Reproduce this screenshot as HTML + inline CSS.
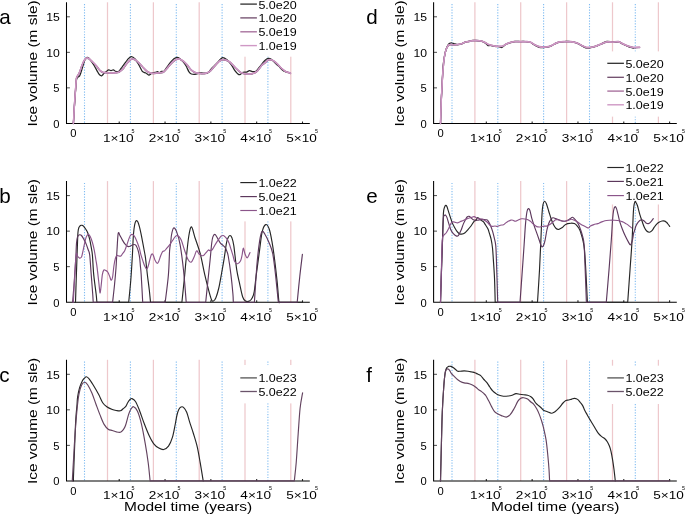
<!DOCTYPE html>
<html><head><meta charset="utf-8"><style>
html,body{margin:0;padding:0;background:#fff;width:685px;height:515px;overflow:hidden;}
svg{display:block;will-change:transform;}
text{font-family:"Liberation Sans", sans-serif;}
</style></head><body>
<svg width="685" height="515" viewBox="0 0 685 515">
<rect x="0" y="0" width="685" height="515" fill="#fff"/>
<line x1="107.5" y1="2.3" x2="107.5" y2="123.4" stroke="#eec8cc" stroke-width="1.25"/>
<line x1="153.4" y1="2.3" x2="153.4" y2="123.4" stroke="#eec8cc" stroke-width="1.25"/>
<line x1="199.2" y1="2.3" x2="199.2" y2="123.4" stroke="#eec8cc" stroke-width="1.25"/>
<line x1="245.0" y1="56.4" x2="245.0" y2="123.4" stroke="#eec8cc" stroke-width="1.25"/>
<line x1="290.8" y1="56.4" x2="290.8" y2="123.4" stroke="#eec8cc" stroke-width="1.25"/>
<line x1="84.5" y1="4.1" x2="84.5" y2="123.4" stroke="#80bcf1" stroke-width="1.1" stroke-dasharray="1.2 1.53"/>
<line x1="130.4" y1="4.1" x2="130.4" y2="123.4" stroke="#80bcf1" stroke-width="1.1" stroke-dasharray="1.2 1.53"/>
<line x1="176.3" y1="4.1" x2="176.3" y2="123.4" stroke="#80bcf1" stroke-width="1.1" stroke-dasharray="1.2 1.53"/>
<line x1="222.1" y1="4.1" x2="222.1" y2="123.4" stroke="#80bcf1" stroke-width="1.1" stroke-dasharray="1.2 1.53"/>
<line x1="267.9" y1="56.4" x2="267.9" y2="123.4" stroke="#80bcf1" stroke-width="1.1" stroke-dasharray="1.2 1.53"/>
<line x1="107.5" y1="181.1" x2="107.5" y2="302.2" stroke="#eec8cc" stroke-width="1.25"/>
<line x1="153.4" y1="181.1" x2="153.4" y2="302.2" stroke="#eec8cc" stroke-width="1.25"/>
<line x1="199.2" y1="181.1" x2="199.2" y2="302.2" stroke="#eec8cc" stroke-width="1.25"/>
<line x1="245.0" y1="221.2" x2="245.0" y2="302.2" stroke="#eec8cc" stroke-width="1.25"/>
<line x1="290.8" y1="221.2" x2="290.8" y2="302.2" stroke="#eec8cc" stroke-width="1.25"/>
<line x1="84.5" y1="182.9" x2="84.5" y2="302.2" stroke="#80bcf1" stroke-width="1.1" stroke-dasharray="1.2 1.53"/>
<line x1="130.4" y1="182.9" x2="130.4" y2="302.2" stroke="#80bcf1" stroke-width="1.1" stroke-dasharray="1.2 1.53"/>
<line x1="176.3" y1="182.9" x2="176.3" y2="302.2" stroke="#80bcf1" stroke-width="1.1" stroke-dasharray="1.2 1.53"/>
<line x1="222.1" y1="182.9" x2="222.1" y2="302.2" stroke="#80bcf1" stroke-width="1.1" stroke-dasharray="1.2 1.53"/>
<line x1="267.9" y1="221.2" x2="267.9" y2="302.2" stroke="#80bcf1" stroke-width="1.1" stroke-dasharray="1.2 1.53"/>
<line x1="107.5" y1="359.8" x2="107.5" y2="480.9" stroke="#eec8cc" stroke-width="1.25"/>
<line x1="153.4" y1="359.8" x2="153.4" y2="480.9" stroke="#eec8cc" stroke-width="1.25"/>
<line x1="199.2" y1="359.8" x2="199.2" y2="480.9" stroke="#eec8cc" stroke-width="1.25"/>
<line x1="245.0" y1="359.8" x2="245.0" y2="365.2" stroke="#eec8cc" stroke-width="1.25"/>
<line x1="245.0" y1="403.2" x2="245.0" y2="480.9" stroke="#eec8cc" stroke-width="1.25"/>
<line x1="290.8" y1="359.8" x2="290.8" y2="365.2" stroke="#eec8cc" stroke-width="1.25"/>
<line x1="290.8" y1="403.2" x2="290.8" y2="480.9" stroke="#eec8cc" stroke-width="1.25"/>
<line x1="84.5" y1="361.6" x2="84.5" y2="480.9" stroke="#80bcf1" stroke-width="1.1" stroke-dasharray="1.2 1.53"/>
<line x1="130.4" y1="361.6" x2="130.4" y2="480.9" stroke="#80bcf1" stroke-width="1.1" stroke-dasharray="1.2 1.53"/>
<line x1="176.3" y1="361.6" x2="176.3" y2="480.9" stroke="#80bcf1" stroke-width="1.1" stroke-dasharray="1.2 1.53"/>
<line x1="222.1" y1="361.6" x2="222.1" y2="480.9" stroke="#80bcf1" stroke-width="1.1" stroke-dasharray="1.2 1.53"/>
<line x1="267.9" y1="361.6" x2="267.9" y2="365.2" stroke="#80bcf1" stroke-width="1.1" stroke-dasharray="1.2 1.53"/>
<line x1="267.9" y1="403.2" x2="267.9" y2="480.9" stroke="#80bcf1" stroke-width="1.1" stroke-dasharray="1.2 1.53"/>
<line x1="474.9" y1="2.3" x2="474.9" y2="123.4" stroke="#eec8cc" stroke-width="1.25"/>
<line x1="520.7" y1="2.3" x2="520.7" y2="123.4" stroke="#eec8cc" stroke-width="1.25"/>
<line x1="566.6" y1="2.3" x2="566.6" y2="123.4" stroke="#eec8cc" stroke-width="1.25"/>
<line x1="612.5" y1="2.3" x2="612.5" y2="51.6" stroke="#eec8cc" stroke-width="1.25"/>
<line x1="612.5" y1="116.4" x2="612.5" y2="123.4" stroke="#eec8cc" stroke-width="1.25"/>
<line x1="658.4" y1="2.3" x2="658.4" y2="51.6" stroke="#eec8cc" stroke-width="1.25"/>
<line x1="658.4" y1="116.4" x2="658.4" y2="123.4" stroke="#eec8cc" stroke-width="1.25"/>
<line x1="452.0" y1="4.1" x2="452.0" y2="123.4" stroke="#80bcf1" stroke-width="1.1" stroke-dasharray="1.2 1.53"/>
<line x1="497.8" y1="4.1" x2="497.8" y2="123.4" stroke="#80bcf1" stroke-width="1.1" stroke-dasharray="1.2 1.53"/>
<line x1="543.6" y1="4.1" x2="543.6" y2="123.4" stroke="#80bcf1" stroke-width="1.1" stroke-dasharray="1.2 1.53"/>
<line x1="589.5" y1="4.1" x2="589.5" y2="123.4" stroke="#80bcf1" stroke-width="1.1" stroke-dasharray="1.2 1.53"/>
<line x1="635.3" y1="4.1" x2="635.3" y2="51.6" stroke="#80bcf1" stroke-width="1.1" stroke-dasharray="1.2 1.53"/>
<line x1="635.3" y1="116.4" x2="635.3" y2="123.4" stroke="#80bcf1" stroke-width="1.1" stroke-dasharray="1.2 1.53"/>
<line x1="474.9" y1="181.1" x2="474.9" y2="302.2" stroke="#eec8cc" stroke-width="1.25"/>
<line x1="520.7" y1="181.1" x2="520.7" y2="302.2" stroke="#eec8cc" stroke-width="1.25"/>
<line x1="566.6" y1="181.1" x2="566.6" y2="302.2" stroke="#eec8cc" stroke-width="1.25"/>
<line x1="612.5" y1="204.3" x2="612.5" y2="302.2" stroke="#eec8cc" stroke-width="1.25"/>
<line x1="658.4" y1="204.3" x2="658.4" y2="302.2" stroke="#eec8cc" stroke-width="1.25"/>
<line x1="452.0" y1="182.9" x2="452.0" y2="302.2" stroke="#80bcf1" stroke-width="1.1" stroke-dasharray="1.2 1.53"/>
<line x1="497.8" y1="182.9" x2="497.8" y2="302.2" stroke="#80bcf1" stroke-width="1.1" stroke-dasharray="1.2 1.53"/>
<line x1="543.6" y1="182.9" x2="543.6" y2="302.2" stroke="#80bcf1" stroke-width="1.1" stroke-dasharray="1.2 1.53"/>
<line x1="589.5" y1="182.9" x2="589.5" y2="302.2" stroke="#80bcf1" stroke-width="1.1" stroke-dasharray="1.2 1.53"/>
<line x1="635.3" y1="204.3" x2="635.3" y2="302.2" stroke="#80bcf1" stroke-width="1.1" stroke-dasharray="1.2 1.53"/>
<line x1="474.9" y1="359.8" x2="474.9" y2="480.9" stroke="#eec8cc" stroke-width="1.25"/>
<line x1="520.7" y1="359.8" x2="520.7" y2="480.9" stroke="#eec8cc" stroke-width="1.25"/>
<line x1="566.6" y1="359.8" x2="566.6" y2="480.9" stroke="#eec8cc" stroke-width="1.25"/>
<line x1="612.5" y1="359.8" x2="612.5" y2="365.8" stroke="#eec8cc" stroke-width="1.25"/>
<line x1="612.5" y1="404" x2="612.5" y2="480.9" stroke="#eec8cc" stroke-width="1.25"/>
<line x1="658.4" y1="359.8" x2="658.4" y2="365.8" stroke="#eec8cc" stroke-width="1.25"/>
<line x1="658.4" y1="404" x2="658.4" y2="480.9" stroke="#eec8cc" stroke-width="1.25"/>
<line x1="452.0" y1="361.6" x2="452.0" y2="480.9" stroke="#80bcf1" stroke-width="1.1" stroke-dasharray="1.2 1.53"/>
<line x1="497.8" y1="361.6" x2="497.8" y2="480.9" stroke="#80bcf1" stroke-width="1.1" stroke-dasharray="1.2 1.53"/>
<line x1="543.6" y1="361.6" x2="543.6" y2="480.9" stroke="#80bcf1" stroke-width="1.1" stroke-dasharray="1.2 1.53"/>
<line x1="589.5" y1="361.6" x2="589.5" y2="480.9" stroke="#80bcf1" stroke-width="1.1" stroke-dasharray="1.2 1.53"/>
<line x1="635.3" y1="361.6" x2="635.3" y2="365.8" stroke="#80bcf1" stroke-width="1.1" stroke-dasharray="1.2 1.53"/>
<line x1="635.3" y1="404" x2="635.3" y2="480.9" stroke="#80bcf1" stroke-width="1.1" stroke-dasharray="1.2 1.53"/>
<rect x="236" y="-10" width="67" height="66.4" fill="#fff"/>
<rect x="236" y="170.9" width="67" height="50.29999999999998" fill="#fff"/>
<rect x="236" y="365.2" width="67" height="38.0" fill="#fff"/>
<rect x="603" y="51.6" width="67" height="64.80000000000001" fill="#fff"/>
<rect x="603" y="155.8" width="67" height="48.5" fill="#fff"/>
<rect x="603" y="365.8" width="67" height="38.19999999999999" fill="#fff"/>
<path d="M66.5,2.3V123.4H309.8" fill="none" stroke="#000" stroke-width="1.05"/>
<line x1="66.5" y1="87.87" x2="69.9" y2="87.87" stroke="#000" stroke-width="1" opacity="0.7"/>
<line x1="66.5" y1="52.33" x2="69.9" y2="52.33" stroke="#000" stroke-width="1" opacity="0.7"/>
<line x1="66.5" y1="16.8" x2="69.9" y2="16.8" stroke="#000" stroke-width="1" opacity="0.7"/>
<line x1="73.4" y1="123.4" x2="73.4" y2="121.5" stroke="#000" stroke-width="1.1" opacity="0.85"/>
<line x1="119.22" y1="123.4" x2="119.22" y2="121.5" stroke="#000" stroke-width="1.1" opacity="0.85"/>
<line x1="165.04" y1="123.4" x2="165.04" y2="121.5" stroke="#000" stroke-width="1.1" opacity="0.85"/>
<line x1="210.86" y1="123.4" x2="210.86" y2="121.5" stroke="#000" stroke-width="1.1" opacity="0.85"/>
<line x1="256.68" y1="123.4" x2="256.68" y2="121.5" stroke="#000" stroke-width="1.1" opacity="0.85"/>
<line x1="302.5" y1="123.4" x2="302.5" y2="121.5" stroke="#000" stroke-width="1.1" opacity="0.85"/>
<path d="M66.5,181.1V302.2H309.8" fill="none" stroke="#000" stroke-width="1.05"/>
<line x1="66.5" y1="266.67" x2="69.9" y2="266.67" stroke="#000" stroke-width="1" opacity="0.7"/>
<line x1="66.5" y1="231.13" x2="69.9" y2="231.13" stroke="#000" stroke-width="1" opacity="0.7"/>
<line x1="66.5" y1="195.6" x2="69.9" y2="195.6" stroke="#000" stroke-width="1" opacity="0.7"/>
<line x1="73.4" y1="302.2" x2="73.4" y2="300.3" stroke="#000" stroke-width="1.1" opacity="0.85"/>
<line x1="119.22" y1="302.2" x2="119.22" y2="300.3" stroke="#000" stroke-width="1.1" opacity="0.85"/>
<line x1="165.04" y1="302.2" x2="165.04" y2="300.3" stroke="#000" stroke-width="1.1" opacity="0.85"/>
<line x1="210.86" y1="302.2" x2="210.86" y2="300.3" stroke="#000" stroke-width="1.1" opacity="0.85"/>
<line x1="256.68" y1="302.2" x2="256.68" y2="300.3" stroke="#000" stroke-width="1.1" opacity="0.85"/>
<line x1="302.5" y1="302.2" x2="302.5" y2="300.3" stroke="#000" stroke-width="1.1" opacity="0.85"/>
<path d="M66.5,359.8V480.9H309.8" fill="none" stroke="#000" stroke-width="1.05"/>
<line x1="66.5" y1="445.37" x2="69.9" y2="445.37" stroke="#000" stroke-width="1" opacity="0.7"/>
<line x1="66.5" y1="409.83" x2="69.9" y2="409.83" stroke="#000" stroke-width="1" opacity="0.7"/>
<line x1="66.5" y1="374.3" x2="69.9" y2="374.3" stroke="#000" stroke-width="1" opacity="0.7"/>
<line x1="73.4" y1="480.9" x2="73.4" y2="479" stroke="#000" stroke-width="1.1" opacity="0.85"/>
<line x1="119.22" y1="480.9" x2="119.22" y2="479" stroke="#000" stroke-width="1.1" opacity="0.85"/>
<line x1="165.04" y1="480.9" x2="165.04" y2="479" stroke="#000" stroke-width="1.1" opacity="0.85"/>
<line x1="210.86" y1="480.9" x2="210.86" y2="479" stroke="#000" stroke-width="1.1" opacity="0.85"/>
<line x1="256.68" y1="480.9" x2="256.68" y2="479" stroke="#000" stroke-width="1.1" opacity="0.85"/>
<line x1="302.5" y1="480.9" x2="302.5" y2="479" stroke="#000" stroke-width="1.1" opacity="0.85"/>
<path d="M433.6,2.3V123.4H676.8" fill="none" stroke="#000" stroke-width="1.05"/>
<line x1="433.6" y1="87.87" x2="437.0" y2="87.87" stroke="#000" stroke-width="1" opacity="0.7"/>
<line x1="433.6" y1="52.33" x2="437.0" y2="52.33" stroke="#000" stroke-width="1" opacity="0.7"/>
<line x1="433.6" y1="16.8" x2="437.0" y2="16.8" stroke="#000" stroke-width="1" opacity="0.7"/>
<line x1="440.5" y1="123.4" x2="440.5" y2="121.5" stroke="#000" stroke-width="1.1" opacity="0.85"/>
<line x1="486.32" y1="123.4" x2="486.32" y2="121.5" stroke="#000" stroke-width="1.1" opacity="0.85"/>
<line x1="532.14" y1="123.4" x2="532.14" y2="121.5" stroke="#000" stroke-width="1.1" opacity="0.85"/>
<line x1="577.96" y1="123.4" x2="577.96" y2="121.5" stroke="#000" stroke-width="1.1" opacity="0.85"/>
<line x1="623.78" y1="123.4" x2="623.78" y2="121.5" stroke="#000" stroke-width="1.1" opacity="0.85"/>
<line x1="669.6" y1="123.4" x2="669.6" y2="121.5" stroke="#000" stroke-width="1.1" opacity="0.85"/>
<path d="M433.6,181.1V302.2H676.8" fill="none" stroke="#000" stroke-width="1.05"/>
<line x1="433.6" y1="266.67" x2="437.0" y2="266.67" stroke="#000" stroke-width="1" opacity="0.7"/>
<line x1="433.6" y1="231.13" x2="437.0" y2="231.13" stroke="#000" stroke-width="1" opacity="0.7"/>
<line x1="433.6" y1="195.6" x2="437.0" y2="195.6" stroke="#000" stroke-width="1" opacity="0.7"/>
<line x1="440.5" y1="302.2" x2="440.5" y2="300.3" stroke="#000" stroke-width="1.1" opacity="0.85"/>
<line x1="486.32" y1="302.2" x2="486.32" y2="300.3" stroke="#000" stroke-width="1.1" opacity="0.85"/>
<line x1="532.14" y1="302.2" x2="532.14" y2="300.3" stroke="#000" stroke-width="1.1" opacity="0.85"/>
<line x1="577.96" y1="302.2" x2="577.96" y2="300.3" stroke="#000" stroke-width="1.1" opacity="0.85"/>
<line x1="623.78" y1="302.2" x2="623.78" y2="300.3" stroke="#000" stroke-width="1.1" opacity="0.85"/>
<line x1="669.6" y1="302.2" x2="669.6" y2="300.3" stroke="#000" stroke-width="1.1" opacity="0.85"/>
<path d="M433.6,359.8V480.9H676.8" fill="none" stroke="#000" stroke-width="1.05"/>
<line x1="433.6" y1="445.37" x2="437.0" y2="445.37" stroke="#000" stroke-width="1" opacity="0.7"/>
<line x1="433.6" y1="409.83" x2="437.0" y2="409.83" stroke="#000" stroke-width="1" opacity="0.7"/>
<line x1="433.6" y1="374.3" x2="437.0" y2="374.3" stroke="#000" stroke-width="1" opacity="0.7"/>
<line x1="440.5" y1="480.9" x2="440.5" y2="479" stroke="#000" stroke-width="1.1" opacity="0.85"/>
<line x1="486.32" y1="480.9" x2="486.32" y2="479" stroke="#000" stroke-width="1.1" opacity="0.85"/>
<line x1="532.14" y1="480.9" x2="532.14" y2="479" stroke="#000" stroke-width="1.1" opacity="0.85"/>
<line x1="577.96" y1="480.9" x2="577.96" y2="479" stroke="#000" stroke-width="1.1" opacity="0.85"/>
<line x1="623.78" y1="480.9" x2="623.78" y2="479" stroke="#000" stroke-width="1.1" opacity="0.85"/>
<line x1="669.6" y1="480.9" x2="669.6" y2="479" stroke="#000" stroke-width="1.1" opacity="0.85"/>
<path d="M73.4,123.4C73.58,120.33 74.13,110.57 74.5,105C74.87,99.43 75.3,94 75.6,90C75.9,86 76.02,83.07 76.3,81C76.58,78.93 76.77,78.42 77.3,77.6C77.83,76.78 78.88,76.97 79.5,76.1C80.12,75.23 80.43,74.07 81,72.4C81.57,70.73 82.27,68.18 82.9,66.1C83.53,64.02 84.18,61.32 84.8,59.9C85.42,58.48 85.98,57.95 86.6,57.6C87.22,57.25 87.77,57.25 88.5,57.8C89.23,58.35 90.07,59.62 91,60.9C91.93,62.18 93.07,63.8 94.1,65.5C95.13,67.2 96.38,69.65 97.2,71.1C98.02,72.55 98.45,73.47 99,74.2C99.55,74.93 100.07,75.23 100.5,75.5C100.93,75.77 101.18,75.97 101.6,75.8C102.02,75.63 102.57,74.97 103,74.5C103.43,74.03 103.63,73.52 104.2,73C104.77,72.48 105.65,71.92 106.4,71.4C107.15,70.88 107.93,70.03 108.7,69.9C109.47,69.77 110.22,70.6 111,70.6C111.78,70.6 112.62,69.77 113.4,69.9C114.18,70.03 114.8,71.15 115.7,71.4C116.6,71.65 117.92,71.88 118.8,71.4C119.68,70.92 120.22,69.53 121,68.5C121.78,67.47 122.43,66.65 123.5,65.2C124.57,63.75 126.12,61.23 127.4,59.8C128.68,58.37 129.92,56.73 131.2,56.6C132.48,56.47 133.8,57.57 135.1,59C136.4,60.43 137.8,63.15 139,65.2C140.2,67.25 141.17,70 142.3,71.3C143.43,72.6 144.72,72.37 145.8,73C146.88,73.63 148.02,74.9 148.8,75.1C149.58,75.3 150.02,74.55 150.5,74.2C150.98,73.85 150.92,73.3 151.7,73C152.48,72.7 154.23,72.63 155.2,72.4C156.17,72.17 156.82,71.53 157.5,71.6C158.18,71.67 158.62,72.85 159.3,72.8C159.98,72.75 160.82,71.55 161.6,71.3C162.38,71.05 163.12,71.98 164,71.3C164.88,70.62 165.83,68.67 166.9,67.2C167.97,65.73 169.23,63.9 170.4,62.5C171.57,61.1 172.78,59.67 173.9,58.8C175.02,57.93 176.13,57.37 177.1,57.3C178.07,57.23 178.68,57.63 179.7,58.4C180.72,59.17 182.13,60.63 183.2,61.9C184.27,63.17 185.13,64.33 186.1,66C187.07,67.67 188.12,70.57 189,71.9C189.88,73.23 190.22,73.62 191.4,74C192.58,74.38 194.73,74.4 196.1,74.2C197.47,74 198.45,73 199.6,72.8C200.75,72.6 201.65,72.97 203,73C204.35,73.03 206.33,73.68 207.7,73C209.07,72.32 209.83,70.35 211.2,68.9C212.57,67.45 214.68,65.55 215.9,64.3C217.12,63.05 217.38,62.52 218.5,61.4C219.62,60.28 221.23,57.9 222.6,57.6C223.97,57.3 225.23,58.38 226.7,59.6C228.17,60.82 230.03,63.05 231.4,64.9C232.77,66.75 233.73,69.12 234.9,70.7C236.07,72.28 237.43,73.82 238.4,74.4C239.37,74.98 239.93,74.53 240.7,74.2C241.47,73.87 242.03,72.75 243,72.4C243.97,72.05 245.42,72.38 246.5,72.1C247.58,71.82 248.52,70.78 249.5,70.7C250.48,70.62 251.33,71.5 252.4,71.6C253.47,71.7 254.73,72.03 255.9,71.3C257.07,70.57 257.9,69 259.4,67.2C260.9,65.4 263.45,61.97 264.9,60.5C266.35,59.03 267.03,58.6 268.1,58.4C269.17,58.2 270.08,58.47 271.3,59.3C272.52,60.13 274.13,62.23 275.4,63.4C276.67,64.57 277.83,65.28 278.9,66.3C279.97,67.32 280.73,68.58 281.8,69.5C282.87,70.42 284.43,71.42 285.3,71.8C286.17,72.18 286.72,71.8 287,71.8" fill="none" stroke="#262626" stroke-width="1.25" stroke-linejoin="round" stroke-linecap="round"/>
<path d="M73.4,123.65C73.58,120.42 74.15,109.82 74.5,104.25C74.85,98.68 75.23,93.97 75.5,90.25C75.77,86.53 75.9,84.07 76.1,81.95C76.3,79.83 76.18,79 76.7,77.55C77.22,76.1 78.37,75.12 79.2,73.25C80.03,71.38 80.88,68.42 81.7,66.35C82.52,64.28 83.28,62.18 84.1,60.85C84.92,59.52 85.77,58.67 86.6,58.35C87.43,58.03 88.07,58.28 89.1,58.95C90.13,59.62 91.55,61.12 92.8,62.35C94.05,63.58 95.4,64.95 96.6,66.35C97.8,67.75 98.93,69.72 100,70.75C101.07,71.78 101.93,72.2 103,72.55C104.07,72.9 105.32,72.72 106.4,72.85C107.48,72.98 108.47,73.28 109.5,73.35C110.53,73.42 111.6,73.32 112.6,73.25C113.6,73.18 114.47,73.08 115.5,72.95C116.53,72.82 117.88,72.82 118.8,72.45C119.72,72.08 120.22,71.4 121,70.75C121.78,70.1 122.67,69.55 123.5,68.55C124.33,67.55 125.23,65.78 126,64.75C126.77,63.72 127.23,63.23 128.1,62.35C128.97,61.47 130.3,59.97 131.2,59.45C132.1,58.93 132.85,59.15 133.5,59.25C134.15,59.35 134.18,59.4 135.1,60.05C136.02,60.7 137.6,61.82 139,63.15C140.4,64.48 142.17,66.65 143.5,68.05C144.83,69.45 145.63,70.63 147,71.55C148.37,72.47 149.95,73.27 151.7,73.55C153.45,73.83 155.55,73.45 157.5,73.25C159.45,73.05 161.65,73.32 163.4,72.35C165.15,71.38 166.45,69.15 168,67.45C169.55,65.75 171.13,63.52 172.7,62.15C174.27,60.78 175.85,59.53 177.4,59.25C178.95,58.97 180.45,59.57 182,60.45C183.55,61.33 185.13,62.9 186.7,64.55C188.27,66.2 189.83,68.93 191.4,70.35C192.97,71.77 194.35,72.47 196.1,73.05C197.85,73.63 200.15,73.82 201.9,73.85C203.65,73.88 205.25,73.63 206.6,73.25C207.95,72.87 208.65,72.72 210,71.55C211.35,70.38 213.28,67.8 214.7,66.25C216.12,64.7 217.18,63.32 218.5,62.25C219.82,61.18 220.85,59.95 222.6,59.85C224.35,59.75 226.95,60.38 229,61.65C231.05,62.92 232.95,65.62 234.9,67.45C236.85,69.28 238.77,71.52 240.7,72.65C242.63,73.78 244.55,74.05 246.5,74.25C248.45,74.45 250.65,74.3 252.4,73.85C254.15,73.4 255.45,72.92 257,71.55C258.55,70.18 260.38,67.07 261.7,65.65C263.02,64.23 263.78,63.97 264.9,63.05C266.02,62.13 267.33,60.63 268.4,60.15C269.47,59.67 270.23,59.87 271.3,60.15C272.37,60.43 273.63,61.02 274.8,61.85C275.97,62.68 277.13,63.98 278.3,65.15C279.47,66.32 280.63,67.78 281.8,68.85C282.97,69.92 284.23,70.92 285.3,71.55C286.37,72.18 287.33,72.32 288.2,72.65C289.07,72.98 290.12,73.4 290.5,73.55" fill="none" stroke="#6e4a6a" stroke-width="1.3" stroke-linejoin="round" stroke-linecap="round"/>
<path d="M73.4,123.25C73.58,120.02 74.15,109.42 74.5,103.85C74.85,98.28 75.23,93.57 75.5,89.85C75.77,86.13 75.9,83.67 76.1,81.55C76.3,79.43 76.18,78.6 76.7,77.15C77.22,75.7 78.37,74.72 79.2,72.85C80.03,70.98 80.88,68.02 81.7,65.95C82.52,63.88 83.28,61.78 84.1,60.45C84.92,59.12 85.77,58.27 86.6,57.95C87.43,57.63 88.07,57.88 89.1,58.55C90.13,59.22 91.55,60.72 92.8,61.95C94.05,63.18 95.4,64.55 96.6,65.95C97.8,67.35 98.93,69.32 100,70.35C101.07,71.38 101.93,71.8 103,72.15C104.07,72.5 105.32,72.32 106.4,72.45C107.48,72.58 108.47,72.88 109.5,72.95C110.53,73.02 111.6,72.92 112.6,72.85C113.6,72.78 114.47,72.68 115.5,72.55C116.53,72.42 117.88,72.42 118.8,72.05C119.72,71.68 120.22,71 121,70.35C121.78,69.7 122.67,69.15 123.5,68.15C124.33,67.15 125.23,65.38 126,64.35C126.77,63.32 127.23,62.83 128.1,61.95C128.97,61.07 130.3,59.57 131.2,59.05C132.1,58.53 132.85,58.75 133.5,58.85C134.15,58.95 134.18,59 135.1,59.65C136.02,60.3 137.6,61.42 139,62.75C140.4,64.08 142.17,66.25 143.5,67.65C144.83,69.05 145.63,70.23 147,71.15C148.37,72.07 149.95,72.87 151.7,73.15C153.45,73.43 155.55,73.05 157.5,72.85C159.45,72.65 161.65,72.92 163.4,71.95C165.15,70.98 166.45,68.75 168,67.05C169.55,65.35 171.13,63.12 172.7,61.75C174.27,60.38 175.85,59.13 177.4,58.85C178.95,58.57 180.45,59.17 182,60.05C183.55,60.93 185.13,62.5 186.7,64.15C188.27,65.8 189.83,68.53 191.4,69.95C192.97,71.37 194.35,72.07 196.1,72.65C197.85,73.23 200.15,73.42 201.9,73.45C203.65,73.48 205.25,73.23 206.6,72.85C207.95,72.47 208.65,72.32 210,71.15C211.35,69.98 213.28,67.4 214.7,65.85C216.12,64.3 217.18,62.92 218.5,61.85C219.82,60.78 220.85,59.55 222.6,59.45C224.35,59.35 226.95,59.98 229,61.25C231.05,62.52 232.95,65.22 234.9,67.05C236.85,68.88 238.77,71.12 240.7,72.25C242.63,73.38 244.55,73.65 246.5,73.85C248.45,74.05 250.65,73.9 252.4,73.45C254.15,73 255.45,72.52 257,71.15C258.55,69.78 260.38,66.67 261.7,65.25C263.02,63.83 263.78,63.57 264.9,62.65C266.02,61.73 267.33,60.23 268.4,59.75C269.47,59.27 270.23,59.47 271.3,59.75C272.37,60.03 273.63,60.62 274.8,61.45C275.97,62.28 277.13,63.58 278.3,64.75C279.47,65.92 280.63,67.38 281.8,68.45C282.97,69.52 284.23,70.52 285.3,71.15C286.37,71.78 287.33,71.92 288.2,72.25C289.07,72.58 290.12,73 290.5,73.15" fill="none" stroke="#a9739f" stroke-width="1.4" stroke-linejoin="round" stroke-linecap="round"/>
<path d="M73.4,123.4C73.58,120.17 74.15,109.57 74.5,104C74.85,98.43 75.23,93.72 75.5,90C75.77,86.28 75.9,83.82 76.1,81.7C76.3,79.58 76.18,78.75 76.7,77.3C77.22,75.85 78.37,74.87 79.2,73C80.03,71.13 80.88,68.17 81.7,66.1C82.52,64.03 83.28,61.93 84.1,60.6C84.92,59.27 85.77,58.42 86.6,58.1C87.43,57.78 88.07,58.03 89.1,58.7C90.13,59.37 91.55,60.87 92.8,62.1C94.05,63.33 95.4,64.7 96.6,66.1C97.8,67.5 98.93,69.47 100,70.5C101.07,71.53 101.93,71.95 103,72.3C104.07,72.65 105.32,72.47 106.4,72.6C107.48,72.73 108.47,73.03 109.5,73.1C110.53,73.17 111.6,73.07 112.6,73C113.6,72.93 114.47,72.83 115.5,72.7C116.53,72.57 117.88,72.57 118.8,72.2C119.72,71.83 120.22,71.15 121,70.5C121.78,69.85 122.67,69.3 123.5,68.3C124.33,67.3 125.23,65.53 126,64.5C126.77,63.47 127.23,62.98 128.1,62.1C128.97,61.22 130.3,59.72 131.2,59.2C132.1,58.68 132.85,58.9 133.5,59C134.15,59.1 134.18,59.15 135.1,59.8C136.02,60.45 137.6,61.57 139,62.9C140.4,64.23 142.17,66.4 143.5,67.8C144.83,69.2 145.63,70.38 147,71.3C148.37,72.22 149.95,73.02 151.7,73.3C153.45,73.58 155.55,73.2 157.5,73C159.45,72.8 161.65,73.07 163.4,72.1C165.15,71.13 166.45,68.9 168,67.2C169.55,65.5 171.13,63.27 172.7,61.9C174.27,60.53 175.85,59.28 177.4,59C178.95,58.72 180.45,59.32 182,60.2C183.55,61.08 185.13,62.65 186.7,64.3C188.27,65.95 189.83,68.68 191.4,70.1C192.97,71.52 194.35,72.22 196.1,72.8C197.85,73.38 200.15,73.57 201.9,73.6C203.65,73.63 205.25,73.38 206.6,73C207.95,72.62 208.65,72.47 210,71.3C211.35,70.13 213.28,67.55 214.7,66C216.12,64.45 217.18,63.07 218.5,62C219.82,60.93 220.85,59.7 222.6,59.6C224.35,59.5 226.95,60.13 229,61.4C231.05,62.67 232.95,65.37 234.9,67.2C236.85,69.03 238.77,71.27 240.7,72.4C242.63,73.53 244.55,73.8 246.5,74C248.45,74.2 250.65,74.05 252.4,73.6C254.15,73.15 255.45,72.67 257,71.3C258.55,69.93 260.38,66.82 261.7,65.4C263.02,63.98 263.78,63.72 264.9,62.8C266.02,61.88 267.33,60.38 268.4,59.9C269.47,59.42 270.23,59.62 271.3,59.9C272.37,60.18 273.63,60.77 274.8,61.6C275.97,62.43 277.13,63.73 278.3,64.9C279.47,66.07 280.63,67.53 281.8,68.6C282.97,69.67 284.23,70.67 285.3,71.3C286.37,71.93 287.33,72.07 288.2,72.4C289.07,72.73 290.12,73.15 290.5,73.3" fill="none" stroke="#cf98c5" stroke-width="1.4" stroke-linejoin="round" stroke-linecap="round"/>
<path d="M440.5,123.4C440.63,119.5 441.03,106.4 441.3,100C441.57,93.6 441.82,90.48 442.1,85C442.38,79.52 442.6,71.93 443,67.1C443.4,62.27 443.98,58.98 444.5,56C445.02,53.02 445.52,51.03 446.1,49.2C446.68,47.37 447.42,45.97 448,45C448.58,44.03 448.95,43.73 449.6,43.4C450.25,43.07 451.12,42.93 451.9,43C452.68,43.07 453.32,43.55 454.3,43.8C455.28,44.05 456.58,44.5 457.8,44.5C459.02,44.5 460.4,44.18 461.6,43.8C462.8,43.42 463.98,42.58 465,42.2C466.02,41.82 466.47,41.78 467.7,41.5C468.93,41.22 471.03,40.7 472.4,40.5C473.77,40.3 474.35,40.2 475.9,40.3C477.45,40.4 480.15,40.65 481.7,41.1C483.25,41.55 484.13,42.25 485.2,43C486.27,43.75 487.3,45.18 488.1,45.6C488.9,46.02 489.12,45.47 490,45.5C490.88,45.53 492.05,45.63 493.4,45.8C494.75,45.97 496.73,46.22 498.1,46.5C499.47,46.78 500.62,47.62 501.6,47.5C502.58,47.38 503.23,46.38 504,45.8C504.77,45.22 505.05,44.58 506.2,44C507.35,43.42 509.43,42.73 510.9,42.3C512.37,41.87 513.4,41.53 515,41.4C516.6,41.27 518.8,41.48 520.5,41.5C522.2,41.52 523.63,41.42 525.2,41.5C526.77,41.58 528.35,41.42 529.9,42C531.45,42.58 532.95,44.12 534.5,45C536.05,45.88 537.63,46.87 539.2,47.3C540.77,47.73 542.15,47.75 543.9,47.6C545.65,47.45 547.95,47 549.7,46.4C551.45,45.8 552.85,44.73 554.4,44C555.95,43.27 557.25,42.42 559,42C560.75,41.58 562.95,41.58 564.9,41.5C566.85,41.42 568.75,41.28 570.7,41.5C572.65,41.72 574.85,42.15 576.6,42.8C578.35,43.45 579.65,44.57 581.2,45.4C582.75,46.23 584.55,47.4 585.9,47.8C587.25,48.2 587.75,48.03 589.3,47.8C590.85,47.57 593.25,47.03 595.2,46.4C597.15,45.77 599.05,44.85 601,44C602.95,43.15 604.95,41.62 606.9,41.3C608.85,40.98 610.77,42.03 612.7,42.1C614.63,42.17 616.75,41.35 618.5,41.7C620.25,42.05 621.45,43.35 623.2,44.2C624.95,45.05 627.25,46.15 629,46.8C630.75,47.45 632.92,47.88 633.7,48.1" fill="none" stroke="#262626" stroke-width="1.25" stroke-linejoin="round" stroke-linecap="round"/>
<path d="M440.5,123.65C440.63,119.75 441.03,106.65 441.3,100.25C441.57,93.85 441.88,89.25 442.1,85.25C442.32,81.25 442.32,80.15 442.6,76.25C442.88,72.35 443.35,65.8 443.8,61.85C444.25,57.9 444.78,54.87 445.3,52.55C445.82,50.23 446.32,49.18 446.9,47.95C447.48,46.72 448.08,45.68 448.8,45.15C449.52,44.62 450.35,44.75 451.2,44.75C452.05,44.75 452.8,45.15 453.9,45.15C455,45.15 456.52,44.93 457.8,44.75C459.08,44.57 460.4,44.43 461.6,44.05C462.8,43.67 463.98,42.8 465,42.45C466.02,42.1 466.47,42.2 467.7,41.95C468.93,41.7 471.03,41.15 472.4,40.95C473.77,40.75 474.35,40.68 475.9,40.75C477.45,40.82 480.15,41 481.7,41.35C483.25,41.7 484.03,42.27 485.2,42.85C486.37,43.43 487.33,44.32 488.7,44.85C490.07,45.38 491.83,45.75 493.4,46.05C494.97,46.35 496.55,46.58 498.1,46.65C499.65,46.72 501.35,46.85 502.7,46.45C504.05,46.05 504.83,44.9 506.2,44.25C507.57,43.6 509.43,42.95 510.9,42.55C512.37,42.15 513.4,41.95 515,41.85C516.6,41.75 518.8,41.93 520.5,41.95C522.2,41.97 523.63,41.9 525.2,41.95C526.77,42 528.35,41.77 529.9,42.25C531.45,42.73 532.95,44.07 534.5,44.85C536.05,45.63 537.63,46.52 539.2,46.95C540.77,47.38 542.15,47.5 543.9,47.45C545.65,47.4 547.95,47.18 549.7,46.65C551.45,46.12 552.85,44.98 554.4,44.25C555.95,43.52 557.25,42.63 559,42.25C560.75,41.87 562.95,42 564.9,41.95C566.85,41.9 568.75,41.77 570.7,41.95C572.65,42.13 574.85,42.47 576.6,43.05C578.35,43.63 579.65,44.7 581.2,45.45C582.75,46.2 584.55,47.17 585.9,47.55C587.25,47.93 587.75,47.9 589.3,47.75C590.85,47.6 593.25,47.23 595.2,46.65C597.15,46.07 599.05,45 601,44.25C602.95,43.5 604.95,42.47 606.9,42.15C608.85,41.83 610.77,42.38 612.7,42.35C614.63,42.32 616.75,41.63 618.5,41.95C620.25,42.27 621.45,43.47 623.2,44.25C624.95,45.03 627.25,46.07 629,46.65C630.75,47.23 631.93,47.6 633.7,47.75C635.47,47.9 638.62,47.58 639.6,47.55" fill="none" stroke="#6e4a6a" stroke-width="1.3" stroke-linejoin="round" stroke-linecap="round"/>
<path d="M440.5,123.25C440.63,119.35 441.03,106.25 441.3,99.85C441.57,93.45 441.88,88.85 442.1,84.85C442.32,80.85 442.32,79.75 442.6,75.85C442.88,71.95 443.35,65.4 443.8,61.45C444.25,57.5 444.78,54.47 445.3,52.15C445.82,49.83 446.32,48.78 446.9,47.55C447.48,46.32 448.08,45.28 448.8,44.75C449.52,44.22 450.35,44.35 451.2,44.35C452.05,44.35 452.8,44.75 453.9,44.75C455,44.75 456.52,44.53 457.8,44.35C459.08,44.17 460.4,44.03 461.6,43.65C462.8,43.27 463.98,42.4 465,42.05C466.02,41.7 466.47,41.8 467.7,41.55C468.93,41.3 471.03,40.75 472.4,40.55C473.77,40.35 474.35,40.28 475.9,40.35C477.45,40.42 480.15,40.6 481.7,40.95C483.25,41.3 484.03,41.87 485.2,42.45C486.37,43.03 487.33,43.92 488.7,44.45C490.07,44.98 491.83,45.35 493.4,45.65C494.97,45.95 496.55,46.18 498.1,46.25C499.65,46.32 501.35,46.45 502.7,46.05C504.05,45.65 504.83,44.5 506.2,43.85C507.57,43.2 509.43,42.55 510.9,42.15C512.37,41.75 513.4,41.55 515,41.45C516.6,41.35 518.8,41.53 520.5,41.55C522.2,41.57 523.63,41.5 525.2,41.55C526.77,41.6 528.35,41.37 529.9,41.85C531.45,42.33 532.95,43.67 534.5,44.45C536.05,45.23 537.63,46.12 539.2,46.55C540.77,46.98 542.15,47.1 543.9,47.05C545.65,47 547.95,46.78 549.7,46.25C551.45,45.72 552.85,44.58 554.4,43.85C555.95,43.12 557.25,42.23 559,41.85C560.75,41.47 562.95,41.6 564.9,41.55C566.85,41.5 568.75,41.37 570.7,41.55C572.65,41.73 574.85,42.07 576.6,42.65C578.35,43.23 579.65,44.3 581.2,45.05C582.75,45.8 584.55,46.77 585.9,47.15C587.25,47.53 587.75,47.5 589.3,47.35C590.85,47.2 593.25,46.83 595.2,46.25C597.15,45.67 599.05,44.6 601,43.85C602.95,43.1 604.95,42.07 606.9,41.75C608.85,41.43 610.77,41.98 612.7,41.95C614.63,41.92 616.75,41.23 618.5,41.55C620.25,41.87 621.45,43.07 623.2,43.85C624.95,44.63 627.25,45.67 629,46.25C630.75,46.83 631.93,47.2 633.7,47.35C635.47,47.5 638.62,47.18 639.6,47.15" fill="none" stroke="#a9739f" stroke-width="1.4" stroke-linejoin="round" stroke-linecap="round"/>
<path d="M440.5,123.4C440.63,119.5 441.03,106.4 441.3,100C441.57,93.6 441.88,89 442.1,85C442.32,81 442.32,79.9 442.6,76C442.88,72.1 443.35,65.55 443.8,61.6C444.25,57.65 444.78,54.62 445.3,52.3C445.82,49.98 446.32,48.93 446.9,47.7C447.48,46.47 448.08,45.43 448.8,44.9C449.52,44.37 450.35,44.5 451.2,44.5C452.05,44.5 452.8,44.9 453.9,44.9C455,44.9 456.52,44.68 457.8,44.5C459.08,44.32 460.4,44.18 461.6,43.8C462.8,43.42 463.98,42.55 465,42.2C466.02,41.85 466.47,41.95 467.7,41.7C468.93,41.45 471.03,40.9 472.4,40.7C473.77,40.5 474.35,40.43 475.9,40.5C477.45,40.57 480.15,40.75 481.7,41.1C483.25,41.45 484.03,42.02 485.2,42.6C486.37,43.18 487.33,44.07 488.7,44.6C490.07,45.13 491.83,45.5 493.4,45.8C494.97,46.1 496.55,46.33 498.1,46.4C499.65,46.47 501.35,46.6 502.7,46.2C504.05,45.8 504.83,44.65 506.2,44C507.57,43.35 509.43,42.7 510.9,42.3C512.37,41.9 513.4,41.7 515,41.6C516.6,41.5 518.8,41.68 520.5,41.7C522.2,41.72 523.63,41.65 525.2,41.7C526.77,41.75 528.35,41.52 529.9,42C531.45,42.48 532.95,43.82 534.5,44.6C536.05,45.38 537.63,46.27 539.2,46.7C540.77,47.13 542.15,47.25 543.9,47.2C545.65,47.15 547.95,46.93 549.7,46.4C551.45,45.87 552.85,44.73 554.4,44C555.95,43.27 557.25,42.38 559,42C560.75,41.62 562.95,41.75 564.9,41.7C566.85,41.65 568.75,41.52 570.7,41.7C572.65,41.88 574.85,42.22 576.6,42.8C578.35,43.38 579.65,44.45 581.2,45.2C582.75,45.95 584.55,46.92 585.9,47.3C587.25,47.68 587.75,47.65 589.3,47.5C590.85,47.35 593.25,46.98 595.2,46.4C597.15,45.82 599.05,44.75 601,44C602.95,43.25 604.95,42.22 606.9,41.9C608.85,41.58 610.77,42.13 612.7,42.1C614.63,42.07 616.75,41.38 618.5,41.7C620.25,42.02 621.45,43.22 623.2,44C624.95,44.78 627.25,45.82 629,46.4C630.75,46.98 631.93,47.35 633.7,47.5C635.47,47.65 638.62,47.33 639.6,47.3" fill="none" stroke="#cf98c5" stroke-width="1.4" stroke-linejoin="round" stroke-linecap="round"/>
<path d="M75.5,302.2C75.62,298.5 75.97,287.03 76.2,280C76.43,272.97 76.67,266.67 76.9,260C77.13,253.33 77.42,244.67 77.6,240C77.78,235.33 77.8,234.03 78,232C78.2,229.97 78.47,228.8 78.8,227.8C79.13,226.8 79.62,226.42 80,226C80.38,225.58 80.72,225.4 81.1,225.3C81.48,225.2 81.9,225.25 82.3,225.4C82.7,225.55 82.92,225.55 83.5,226.2C84.08,226.85 85.1,228.2 85.8,229.3C86.5,230.4 87.05,231.12 87.7,232.8C88.35,234.48 89.12,237 89.7,239.4C90.28,241.8 90.75,244.6 91.2,247.2C91.65,249.8 91.98,250.47 92.4,255C92.82,259.53 93.08,267.93 93.7,274.4C94.32,280.87 95.57,289.17 96.1,293.8C96.63,298.43 96.77,300.8 96.9,302.2L128.7,302.2C129.05,298.5 130.18,287.87 130.8,280C131.42,272.13 132,261.95 132.4,255C132.8,248.05 132.93,242.63 133.2,238.3C133.47,233.97 133.68,231.58 134,229C134.32,226.42 134.68,224.2 135.1,222.8C135.52,221.4 136.03,220.73 136.5,220.6C136.97,220.47 137.42,220.98 137.9,222C138.38,223.02 138.88,224.77 139.4,226.7C139.92,228.63 140.48,231.15 141,233.6C141.52,236.05 141.98,238.67 142.5,241.4C143.02,244.13 143.6,247.23 144.1,250C144.6,252.77 144.95,253.83 145.5,258C146.05,262.17 146.77,269.67 147.4,275C148.03,280.33 148.78,285.47 149.3,290C149.82,294.53 150.3,300.17 150.5,302.2L181.9,302.2C182.28,298.5 183.48,287.25 184.2,280C184.92,272.75 185.43,266.03 186.2,258.7C186.97,251.37 187.92,241.3 188.8,236C189.68,230.7 190.47,226.62 191.5,226.9C192.53,227.18 193.55,233.27 195,237.7C196.45,242.13 198.58,247.38 200.2,253.5C201.82,259.62 203.3,268.32 204.7,274.4C206.1,280.48 207.47,285.78 208.6,290C209.73,294.22 210.7,297.85 211.5,299.7C212.3,301.55 212.67,301.43 213.4,301.1C214.13,300.77 215,299.88 215.9,297.7C216.8,295.52 217.83,292.2 218.8,288C219.77,283.8 220.82,277.35 221.7,272.5C222.58,267.65 223.32,263.77 224.1,258.9C224.88,254.03 225.75,246.8 226.4,243.3C227.05,239.8 227.42,239.2 228,237.9C228.58,236.6 229.27,235.57 229.9,235.5C230.53,235.43 231.15,235.82 231.8,237.5C232.45,239.18 232.98,240.25 233.8,245.6C234.62,250.95 235.72,263.18 236.7,269.6C237.68,276.02 238.72,279.58 239.7,284.1C240.68,288.62 241.63,293.87 242.6,296.7C243.57,299.53 244.37,300.37 245.5,301.1C246.63,301.83 248.27,301.67 249.4,301.1C250.53,300.53 251.5,299.23 252.3,297.7C253.1,296.17 253.57,295.48 254.2,291.9C254.83,288.32 255.2,283.18 256.1,276.2C257,269.22 258.58,257.43 259.6,250C260.62,242.57 261.18,235.83 262.2,231.6C263.22,227.37 264.53,225.03 265.7,224.6C266.87,224.17 268.17,226.23 269.2,229C270.23,231.77 271.02,236.25 271.9,241.2C272.78,246.15 273.63,252 274.5,258.7C275.37,265.4 276.38,274.4 277.1,281.4C277.82,288.4 278.4,297.23 278.8,300.7C279.2,304.17 279.38,301.95 279.5,302.2L302.5,302.2" fill="none" stroke="#262626" stroke-width="1.15" stroke-linejoin="round" stroke-linecap="round"/>
<path d="M72.6,302.2C72.83,299.33 73.48,292.03 74,285C74.52,277.97 75.28,266.95 75.7,260C76.12,253.05 76.18,247.18 76.5,243.3C76.82,239.42 77.08,238.12 77.6,236.7C78.12,235.28 78.95,235 79.6,234.8C80.25,234.6 80.78,234.73 81.5,235.5C82.22,236.27 83.12,237.97 83.9,239.4C84.68,240.83 85.5,242.42 86.2,244.1C86.9,245.78 87.52,247.68 88.1,249.5C88.68,251.32 89.18,250.85 89.7,255C90.22,259.15 90.7,267.93 91.2,274.4C91.7,280.87 92.37,289.17 92.7,293.8C93.03,298.43 93.12,300.8 93.2,302.2L112.6,302.2C112.92,299.33 113.93,290.7 114.5,285C115.07,279.3 115.58,273.83 116,268C116.42,262.17 116.63,255.77 117,250C117.37,244.23 117.7,235.8 118.2,233.4C118.7,231 119.32,234.52 120,235.6C120.68,236.68 121.52,238.55 122.3,239.9C123.08,241.25 123.92,242.67 124.7,243.7C125.48,244.73 126.23,245.63 127,246.1C127.77,246.57 128.52,246.63 129.3,246.5C130.08,246.37 130.98,245.63 131.7,245.3C132.42,244.97 132.97,244.57 133.6,244.5C134.23,244.43 134.92,244.38 135.5,244.9C136.08,245.42 136.58,246.37 137.1,247.6C137.62,248.83 138.17,250.52 138.6,252.3C139.03,254.08 139.4,256 139.7,258.3C140,260.6 140.15,263.32 140.4,266.1C140.65,268.88 140.82,268.98 141.2,275C141.58,281.02 142.45,297.67 142.7,302.2L165.2,302.2C165.73,297.67 167.67,283.62 168.4,275C169.13,266.38 169.22,255.87 169.6,250.5C169.98,245.13 170.38,245.38 170.7,242.8C171.02,240.22 171.02,237.45 171.5,235C171.98,232.55 172.75,228.67 173.6,228.1C174.45,227.53 175.52,228.83 176.6,231.6C177.68,234.37 178.93,238.13 180.1,244.7C181.27,251.27 182.58,261.42 183.6,271C184.62,280.58 185.77,297 186.2,302.2L205.7,302.2C206.08,298.5 207.27,287.03 208,280C208.73,272.97 209.48,266.12 210.1,260C210.72,253.88 211.25,247.12 211.7,243.3C212.15,239.48 212.28,238.58 212.8,237.1C213.32,235.62 214.15,234.47 214.8,234.4C215.45,234.33 216.07,235.73 216.7,236.7C217.33,237.67 217.95,239.1 218.6,240.2C219.25,241.3 219.82,242.4 220.6,243.3C221.38,244.2 222.53,244.88 223.3,245.6C224.07,246.32 224.62,246.68 225.2,247.6C225.78,248.52 226.28,249.62 226.8,251.1C227.32,252.58 227.62,252.62 228.3,256.5C228.98,260.38 230.13,268.18 230.9,274.4C231.67,280.62 232.5,289.17 232.9,293.8C233.3,298.43 233.23,300.8 233.3,302.2L254.4,302.2C254.83,295.83 256.13,274.17 257,264C257.87,253.83 258.78,246.6 259.6,241.2C260.42,235.8 261.02,232.77 261.9,231.6C262.78,230.43 263.68,232.3 264.9,234.2C266.12,236.1 267.9,239.78 269.2,243C270.5,246.22 271.68,248.55 272.7,253.5C273.72,258.45 274.42,265.13 275.3,272.7C276.18,280.27 277.47,293.98 278,298.9C278.53,303.82 278.42,301.65 278.5,302.2L297.2,302.2C297.63,297.87 298.93,284.18 299.8,276.2C300.67,268.22 301.97,257.95 302.4,254.3" fill="none" stroke="#5c385c" stroke-width="1.15" stroke-linejoin="round" stroke-linecap="round"/>
<path d="M73.3,302.2C73.5,298.5 74.13,286.7 74.5,280C74.87,273.3 75.22,266.17 75.5,262C75.78,257.83 75.97,256.43 76.2,255C76.43,253.57 76.68,253.23 76.9,253.4C77.12,253.57 77.05,255.22 77.5,256C77.95,256.78 78.93,257.93 79.6,258.1C80.27,258.27 81.05,257.65 81.5,257C81.95,256.35 81.78,256.48 82.3,254.2C82.82,251.92 83.95,246.15 84.6,243.3C85.25,240.45 85.62,238.58 86.2,237.1C86.78,235.62 87.45,234.53 88.1,234.4C88.75,234.27 89.38,234.95 90.1,236.3C90.82,237.65 91.7,240.17 92.4,242.5C93.1,244.83 93.72,247.38 94.3,250.3C94.88,253.22 95.43,257.12 95.9,260C96.37,262.88 96.58,263.58 97.1,267.6C97.62,271.62 98.52,279.88 99,284.1C99.48,288.32 99.67,292.42 100,292.9C100.33,293.38 100.6,290.08 101,287C101.4,283.92 101.92,277.23 102.4,274.4C102.88,271.57 103.33,270.65 103.9,270C104.47,269.35 105.17,270.17 105.8,270.5C106.43,270.83 107.05,271.02 107.7,272C108.35,272.98 109.13,275.03 109.7,276.4C110.27,277.77 110.62,280.1 111.1,280.2C111.58,280.3 112.13,279.37 112.6,277C113.07,274.63 113.42,269.17 113.9,266C114.38,262.83 114.98,259.75 115.5,258C116.02,256.25 116.42,255.83 117,255.5C117.58,255.17 118.35,255.92 119,256C119.65,256.08 120.35,256.33 120.9,256C121.45,255.67 121.67,254.88 122.3,254C122.93,253.12 123.92,252.28 124.7,250.7C125.48,249.12 126.37,246.3 127,244.5C127.63,242.7 127.98,241.32 128.5,239.9C129.02,238.48 129.52,236.92 130.1,236C130.68,235.08 131.35,234.47 132,234.4C132.65,234.33 133.42,234.95 134,235.6C134.58,236.25 134.92,237.07 135.5,238.3C136.08,239.53 136.85,241.32 137.5,243C138.15,244.68 138.85,246.5 139.4,248.4C139.95,250.3 140.23,252.37 140.8,254.4C141.37,256.43 142.15,258.65 142.8,260.6C143.45,262.55 144.05,264.67 144.7,266.1C145.35,267.53 146.12,269.2 146.7,269.2C147.28,269.2 147.68,267.65 148.2,266.1C148.72,264.55 149.28,261.78 149.8,259.9C150.32,258.02 150.85,255.78 151.3,254.8C151.75,253.82 152.12,253.8 152.5,254C152.88,254.2 153.15,254.9 153.6,256C154.05,257.1 154.62,259.38 155.2,260.6C155.78,261.82 156.52,263.17 157.1,263.3C157.68,263.43 158.12,262.62 158.7,261.4C159.28,260.18 159.95,257.62 160.6,256C161.25,254.38 161.95,252.55 162.6,251.7C163.25,250.85 163.8,251.48 164.5,250.9C165.2,250.32 165.88,249.3 166.8,248.2C167.72,247.1 168.95,245.72 170,244.3C171.05,242.88 172.27,240.93 173.1,239.7C173.93,238.47 174.27,237.58 175,236.9C175.73,236.22 176.5,235.17 177.5,235.6C178.5,236.03 179.83,237.1 181,239.5C182.17,241.9 183.33,246.65 184.5,250C185.67,253.35 186.9,257.57 188,259.6C189.1,261.63 190.08,262.63 191.1,262.2C192.12,261.77 193.17,258.9 194.1,257C195.03,255.1 195.83,251.25 196.7,250.8C197.57,250.35 198.23,253.48 199.3,254.3C200.37,255.12 202.08,255.85 203.1,255.7C204.12,255.55 204.5,254.37 205.4,253.4C206.3,252.43 207.78,250.35 208.5,249.9C209.22,249.45 209.05,250.77 209.7,250.7C210.35,250.63 211.43,250.6 212.4,249.5C213.37,248.4 214.47,245.78 215.5,244.1C216.53,242.42 217.68,240.7 218.6,239.4C219.52,238.1 220.22,236.95 221,236.3C221.78,235.65 222.65,235.43 223.3,235.5C223.95,235.57 224.25,236.05 224.9,236.7C225.55,237.35 226.5,238.3 227.2,239.4C227.9,240.5 228.45,241.62 229.1,243.3C229.75,244.98 230.45,247.43 231.1,249.5C231.75,251.57 232.38,253.65 233,255.7C233.62,257.75 234.02,260.47 234.8,261.8C235.58,263.13 236.73,263.87 237.7,263.7C238.67,263.53 239.87,262.25 240.6,260.8C241.33,259.35 241.65,257.1 242.1,255C242.55,252.9 242.8,248.32 243.3,248.2C243.8,248.08 244.43,252.7 245.1,254.3C245.77,255.9 246.48,258.08 247.3,257.8C248.12,257.52 249.55,253.47 250,252.6" fill="none" stroke="#8b558a" stroke-width="1.15" stroke-linejoin="round" stroke-linecap="round"/>
<path d="M440.5,302.2C440.67,296.83 441.15,280.7 441.5,270C441.85,259.3 442.28,247.42 442.6,238C442.92,228.58 443.08,218.62 443.4,213.5C443.72,208.38 444.12,208.65 444.5,207.3C444.88,205.95 445.3,205.53 445.7,205.4C446.1,205.27 446.45,205.53 446.9,206.5C447.35,207.47 447.82,209.38 448.4,211.2C448.98,213.02 449.75,215.45 450.4,217.4C451.05,219.35 451.6,221.22 452.3,222.9C453,224.58 453.82,226.08 454.6,227.5C455.38,228.92 456.22,230.37 457,231.4C457.78,232.43 458.53,233.25 459.3,233.7C460.07,234.15 460.7,234.22 461.6,234.1C462.5,233.98 463.67,233.72 464.7,233C465.73,232.28 466.75,230.97 467.8,229.8C468.85,228.63 469.95,227.42 471,226C472.05,224.58 473.33,222.22 474.1,221.3C474.87,220.38 475.03,221.12 475.6,220.5C476.17,219.88 476.98,217.98 477.5,217.6C478.02,217.22 478.12,217.78 478.7,218.2C479.28,218.62 480.23,219.52 481,220.1C481.77,220.68 482.52,220.85 483.3,221.7C484.08,222.55 484.92,223.97 485.7,225.2C486.48,226.43 487.37,227.68 488,229.1C488.63,230.52 488.98,232.02 489.5,233.7C490.02,235.38 490.6,236.82 491.1,239.2C491.6,241.58 492.13,244.72 492.5,248C492.87,251.28 492.97,253.92 493.3,258.9C493.63,263.88 494.18,270.68 494.5,277.9C494.82,285.12 495.08,298.15 495.2,302.2L537.5,302.2C537.83,296.83 538.93,280.37 539.5,270C540.07,259.63 540.48,249.27 540.9,240C541.32,230.73 541.65,220.28 542,214.4C542.35,208.52 542.58,206.88 543,204.7C543.42,202.52 543.93,201.47 544.5,201.3C545.07,201.13 545.68,202 546.4,203.7C547.12,205.4 547.98,208.9 548.8,211.5C549.62,214.1 550.48,217.03 551.3,219.3C552.12,221.57 552.9,223.57 553.7,225.1C554.5,226.63 555.3,227.77 556.1,228.5C556.9,229.23 557.95,229.42 558.5,229.5C559.05,229.58 558.77,229.33 559.4,229C560.03,228.67 561.42,228.15 562.3,227.5C563.18,226.85 563.82,225.75 564.7,225.1C565.58,224.45 566.55,223.92 567.6,223.6C568.65,223.28 569.87,223.2 571,223.2C572.13,223.2 573.35,223.12 574.4,223.6C575.45,224.08 576.4,225.03 577.3,226.1C578.2,227.17 579.07,228.38 579.8,230C580.53,231.62 581.13,233.87 581.7,235.8C582.27,237.73 582.73,239.23 583.2,241.6C583.67,243.97 584.07,245.27 584.5,250C584.93,254.73 585.32,261.3 585.8,270C586.28,278.7 587.13,296.83 587.4,302.2L627.7,302.2C628.08,296.83 629.27,280.37 630,270C630.73,259.63 631.52,250 632.1,240C632.68,230 633.03,216.37 633.5,210C633.97,203.63 634.45,202.97 634.9,201.8C635.35,200.63 635.78,202.38 636.2,203C636.62,203.62 636.8,203.62 637.4,205.5C638,207.38 639.02,211.67 639.8,214.3C640.58,216.93 641.33,219.1 642.1,221.3C642.87,223.5 643.63,225.88 644.4,227.5C645.17,229.12 645.87,230.22 646.7,231C647.53,231.78 648.52,232.25 649.4,232.2C650.28,232.15 651.18,231.53 652,230.7C652.82,229.87 653.52,228.3 654.3,227.2C655.08,226.1 655.85,224.95 656.7,224.1C657.55,223.25 658.5,222.62 659.4,222.1C660.3,221.58 661.2,221.17 662.1,221C663,220.83 664.03,220.85 664.8,221.1C665.57,221.35 666.12,221.93 666.7,222.5C667.28,223.07 667.8,223.85 668.3,224.5C668.8,225.15 669.47,226.08 669.7,226.4" fill="none" stroke="#262626" stroke-width="1.15" stroke-linejoin="round" stroke-linecap="round"/>
<path d="M440.5,302.2C440.67,296.83 441.15,280.7 441.5,270C441.85,259.3 442.28,246.63 442.6,238C442.92,229.37 443.08,221.95 443.4,218.2C443.72,214.45 444.15,216.02 444.5,215.5C444.85,214.98 445.1,214.78 445.5,215.1C445.9,215.42 446.35,215.98 446.9,217.4C447.45,218.82 448.15,221.53 448.8,223.6C449.45,225.67 450.08,228.18 450.8,229.8C451.52,231.42 452.13,232.25 453.1,233.3C454.07,234.35 455.7,235.77 456.6,236.1C457.5,236.43 457.78,236.22 458.5,235.3C459.22,234.38 460.12,232.42 460.9,230.6C461.68,228.78 462.43,226.22 463.2,224.4C463.97,222.58 464.85,220.93 465.5,219.7C466.15,218.47 466.52,217.57 467.1,217C467.68,216.43 468.35,216.17 469,216.3C469.65,216.43 470.28,217.22 471,217.8C471.72,218.38 472.55,219.38 473.3,219.8C474.05,220.22 474.87,220.22 475.5,220.3C476.13,220.38 476.32,220.38 477.1,220.3C477.88,220.22 479.3,219.95 480.2,219.8C481.1,219.65 481.58,219.4 482.5,219.4C483.42,219.4 484.92,219.72 485.7,219.8C486.48,219.88 486.68,219.52 487.2,219.9C487.72,220.28 488.22,221.08 488.8,222.1C489.38,223.12 490.07,224.45 490.7,226C491.33,227.55 492.02,229.47 492.6,231.4C493.18,233.33 493.68,235.33 494.2,237.6C494.72,239.87 495.33,241.45 495.7,245C496.07,248.55 496.18,253.42 496.4,258.9C496.62,264.38 496.78,270.68 497,277.9C497.22,285.12 497.58,298.15 497.7,302.2L520,302.2C520.33,297.67 521.32,284.53 522,275C522.68,265.47 523.52,253.48 524.1,245C524.68,236.52 525.02,229.68 525.5,224.1C525.98,218.52 526.52,214.08 527,211.5C527.48,208.92 527.92,208.77 528.4,208.6C528.88,208.43 529.33,208.88 529.9,210.5C530.47,212.12 531.07,215.7 531.8,218.3C532.53,220.9 533.48,223.67 534.3,226.1C535.12,228.53 535.9,230.63 536.7,232.9C537.5,235.17 538.38,237.63 539.1,239.7C539.82,241.77 540.5,244.1 541,245.3C541.5,246.5 541.68,246.87 542.1,246.9C542.52,246.93 543.02,246.55 543.5,245.5C543.98,244.45 544.43,243.18 545,240.6C545.57,238.02 546.27,232.9 546.9,230C547.53,227.1 548.07,225.07 548.8,223.2C549.53,221.33 550.57,219.7 551.3,218.8C552.03,217.9 552.48,217.83 553.2,217.8C553.92,217.77 554.65,218.27 555.6,218.6C556.55,218.93 557.7,219.37 558.9,219.8C560.1,220.23 561.5,221.05 562.8,221.2C564.1,221.35 565.5,221.1 566.7,220.7C567.9,220.3 569.03,219.37 570,218.8C570.97,218.23 571.6,217.13 572.5,217.3C573.4,217.47 574.43,218.67 575.4,219.8C576.37,220.93 577.42,222.4 578.3,224.1C579.18,225.8 579.97,227.9 580.7,230C581.43,232.1 582.13,234.2 582.7,236.7C583.27,239.2 583.68,239.45 584.1,245C584.52,250.55 584.82,260.47 585.2,270C585.58,279.53 586.2,296.83 586.4,302.2L606.3,302.2C606.75,296.83 608.17,280.37 609,270C609.83,259.63 610.7,248.45 611.3,240C611.9,231.55 612.22,224.22 612.6,219.3C612.98,214.38 613.2,212.6 613.6,210.5C614,208.4 614.52,207.02 615,206.7C615.48,206.38 616,207.32 616.5,208.6C617,209.88 617.43,212.13 618,214.4C618.57,216.67 619.18,219.77 619.9,222.2C620.62,224.63 621.42,226.73 622.3,229C623.18,231.27 624.22,233.7 625.2,235.8C626.18,237.9 627.32,240.1 628.2,241.6C629.08,243.1 629.78,245.12 630.5,244.8C631.22,244.48 632,241.55 632.5,239.7C633,237.85 633.17,235.17 633.5,233.7C633.83,232.23 634.1,232.18 634.5,230.9C634.9,229.62 635.28,227.47 635.9,226C636.52,224.53 637.3,223.13 638.2,222.1C639.1,221.07 640.4,220.07 641.3,219.8C642.2,219.53 642.82,219.98 643.6,220.5C644.38,221.02 645.22,222.38 646,222.9C646.78,223.42 647.53,223.73 648.3,223.6C649.07,223.47 649.77,222.93 650.6,222.1C651.43,221.27 652.85,219.18 653.3,218.6" fill="none" stroke="#5c385c" stroke-width="1.15" stroke-linejoin="round" stroke-linecap="round"/>
<path d="M440.5,302.2C440.67,296 441.22,275.37 441.5,265C441.78,254.63 441.82,244.95 442.2,240C442.58,235.05 443.15,236.47 443.8,235.3C444.45,234.13 445.33,234.03 446.1,233C446.87,231.97 447.68,230.53 448.4,229.1C449.12,227.67 449.75,225.57 450.4,224.4C451.05,223.23 451.6,222.48 452.3,222.1C453,221.72 453.75,221.97 454.6,222.1C455.45,222.23 456.48,222.97 457.4,222.9C458.32,222.83 459.13,222.1 460.1,221.7C461.07,221.3 462.3,220.88 463.2,220.5C464.1,220.12 464.6,219.78 465.5,219.4C466.4,219.02 467.57,218.53 468.6,218.2C469.63,217.87 470.78,217.67 471.7,217.4C472.62,217.13 473.07,216.4 474.1,216.6C475.13,216.8 476.62,218.2 477.9,218.6C479.18,219 480.63,218.68 481.8,219C482.97,219.32 483.93,219.92 484.9,220.5C485.87,221.08 486.83,221.78 487.6,222.5C488.37,223.22 488.78,224.15 489.5,224.8C490.22,225.45 490.98,226.2 491.9,226.4C492.82,226.6 494.1,226 495,226C495.9,226 496.4,226.53 497.3,226.4C498.2,226.27 499.37,225.47 500.4,225.2C501.43,224.93 502.6,225.18 503.5,224.8C504.4,224.42 505.02,223.48 505.8,222.9C506.58,222.32 507.35,221.77 508.2,221.3C509.05,220.83 510.12,220.28 510.9,220.1C511.68,219.92 512.17,220.02 512.9,220.2C513.63,220.38 514.48,221.2 515.3,221.2C516.12,221.2 516.73,220.6 517.8,220.2C518.87,219.8 520.25,218.95 521.7,218.8C523.15,218.65 525.05,218.9 526.5,219.3C527.95,219.7 529.27,220.4 530.4,221.2C531.53,222 532.25,223.2 533.3,224.1C534.35,225 535.57,226.12 536.7,226.6C537.83,227.08 538.88,227.08 540.1,227C541.32,226.92 542.87,226.25 544,226.1C545.13,225.95 545.93,226.35 546.9,226.1C547.87,225.85 548.83,225.25 549.8,224.6C550.77,223.95 551.73,223 552.7,222.2C553.67,221.4 554.73,220.2 555.6,219.8C556.47,219.4 557.03,219.65 557.9,219.8C558.77,219.95 559.67,220.47 560.8,220.7C561.93,220.93 563.4,221.28 564.7,221.2C566,221.12 567.47,220.52 568.6,220.2C569.73,219.88 570.37,219.22 571.5,219.3C572.63,219.38 574.1,220.05 575.4,220.7C576.7,221.35 578,222.38 579.3,223.2C580.6,224.02 582.07,224.97 583.2,225.6C584.33,226.23 585.22,226.6 586.1,227C586.98,227.4 587.78,228.15 588.5,228C589.22,227.85 589.52,226.67 590.4,226.1C591.28,225.53 592.58,225.02 593.8,224.6C595.02,224.18 596.57,223.97 597.7,223.6C598.83,223.23 599.4,222.88 600.6,222.4C601.8,221.92 603.38,221.07 604.9,220.7C606.42,220.33 608.1,220.28 609.7,220.2C611.3,220.12 612.88,220.12 614.5,220.2C616.12,220.28 617.98,220.4 619.4,220.7C620.82,221 622.03,221.57 623,222C623.97,222.43 624.48,222.9 625.2,223.3C625.92,223.7 626.55,223.88 627.3,224.4C628.05,224.92 628.98,225.82 629.7,226.4C630.42,226.98 631.28,227.65 631.6,227.9" fill="none" stroke="#8b558a" stroke-width="1.15" stroke-linejoin="round" stroke-linecap="round"/>
<path d="M73.3,480.9C73.5,475.75 74.1,460.03 74.5,450C74.9,439.97 75.28,428.2 75.7,420.7C76.12,413.2 76.68,408.92 77,405C77.32,401.08 77.17,400.08 77.6,397.2C78.03,394.32 78.82,390.42 79.6,387.7C80.38,384.98 81.5,382.48 82.3,380.9C83.1,379.32 83.72,378.88 84.4,378.2C85.08,377.52 85.62,376.7 86.4,376.8C87.18,376.9 87.97,377.43 89.1,378.8C90.23,380.17 91.6,382.38 93.2,385C94.8,387.62 97.12,391.55 98.7,394.5C100.28,397.45 101.35,400.67 102.7,402.7C104.05,404.73 105.2,405.57 106.8,406.7C108.4,407.83 110.72,408.87 112.3,409.5C113.88,410.13 114.95,410.28 116.3,410.5C117.65,410.72 119.27,411.08 120.4,410.8C121.53,410.52 122.17,409.58 123.1,408.8C124.03,408.02 125.22,407.15 126,406.1C126.78,405.05 127.13,403.6 127.8,402.5C128.47,401.4 129.3,400.15 130,399.5C130.7,398.85 131.08,398.27 132,398.6C132.92,398.93 134.27,399.57 135.5,401.5C136.73,403.43 137.93,406.48 139.4,410.2C140.87,413.92 142.68,419.58 144.3,423.8C145.92,428.02 147.48,432.1 149.1,435.5C150.72,438.9 152.38,442.1 154,444.2C155.62,446.3 157.18,447.22 158.8,448.1C160.42,448.98 162.08,449.82 163.7,449.5C165.32,449.18 167.05,448.22 168.5,446.2C169.95,444.18 171.28,441.02 172.4,437.4C173.52,433.78 174.43,428.23 175.2,424.5C175.97,420.77 176.4,417.5 177,415C177.6,412.5 178.13,410.83 178.8,409.5C179.47,408.17 180.22,407.37 181,407C181.78,406.63 182.55,406.43 183.5,407.3C184.45,408.17 185.68,409.77 186.7,412.2C187.72,414.63 188.48,418.35 189.6,421.9C190.72,425.45 192.12,429.3 193.4,433.5C194.68,437.7 196.17,442.23 197.3,447.1C198.43,451.97 199.22,457.07 200.2,462.7C201.18,468.33 202.7,477.87 203.2,480.9" fill="none" stroke="#262626" stroke-width="1.15" stroke-linejoin="round" stroke-linecap="round"/>
<path d="M72.3,480.9C72.5,477.42 73.08,467.15 73.5,460C73.92,452.85 74.23,446.2 74.8,438C75.37,429.8 76.22,418.05 76.9,410.8C77.58,403.55 78.12,398.8 78.9,394.5C79.68,390.2 80.58,387.05 81.6,385C82.62,382.95 83.97,382.2 85,382.2C86.03,382.2 86.65,383.18 87.8,385C88.95,386.82 90.55,389.93 91.9,393.1C93.25,396.27 94.55,400.37 95.9,404C97.25,407.63 98.63,411.5 100,414.9C101.37,418.3 102.73,422.02 104.1,424.4C105.47,426.78 106.83,428.18 108.2,429.2C109.57,430.22 110.95,430.05 112.3,430.5C113.65,430.95 114.95,431.6 116.3,431.9C117.65,432.2 119.27,432.63 120.4,432.3C121.53,431.97 122.25,431.03 123.1,429.9C123.95,428.77 124.57,428.13 125.5,425.5C126.43,422.87 127.78,416.85 128.7,414.1C129.62,411.35 130.18,410.23 131,409C131.82,407.77 132.52,406.33 133.6,406.7C134.68,407.07 136.2,408.35 137.5,411.2C138.8,414.05 140.12,418.45 141.4,423.8C142.68,429.15 144.07,436.82 145.2,443.3C146.33,449.78 147.38,456.43 148.2,462.7C149.02,468.97 149.78,477.87 150.1,480.9L294.3,480.9C294.62,477.87 295.55,470.6 296.2,462.7C296.85,454.8 297.55,442.57 298.2,433.5C298.85,424.43 299.37,415.08 300.1,408.3C300.83,401.52 302.18,395.38 302.6,392.8" fill="none" stroke="#63435f" stroke-width="1.15" stroke-linejoin="round" stroke-linecap="round"/>
<path d="M440.5,480.9C440.67,474.08 441.2,451.48 441.5,440C441.8,428.52 441.92,420.95 442.3,412C442.68,403.05 443.32,392.85 443.8,386.3C444.28,379.75 444.72,375.78 445.2,372.7C445.68,369.62 446.13,368.85 446.7,367.8C447.27,366.75 447.88,366.63 448.6,366.4C449.32,366.17 450.18,366.17 451,366.4C451.82,366.63 452.68,367.23 453.5,367.8C454.32,368.37 455.18,369.23 455.9,369.8C456.62,370.37 457.07,370.97 457.8,371.2C458.53,371.43 459.23,371.25 460.3,371.2C461.37,371.15 462.92,370.9 464.2,370.9C465.48,370.9 466.72,371.02 468,371.2C469.28,371.38 470.77,371.75 471.9,372C473.03,372.25 473.83,372.35 474.8,372.7C475.77,373.05 476.72,373.62 477.7,374.1C478.68,374.58 479.67,374.7 480.7,375.6C481.73,376.5 482.87,378.33 483.9,379.5C484.93,380.67 485.92,381.35 486.9,382.6C487.88,383.85 488.83,385.62 489.8,387C490.77,388.38 491.73,389.85 492.7,390.9C493.67,391.95 494.63,392.62 495.6,393.3C496.57,393.98 497.2,394.52 498.5,395C499.8,395.48 501.78,396.03 503.4,396.2C505.02,396.37 506.75,396.17 508.2,396C509.65,395.83 510.8,395.6 512.1,395.2C513.4,394.8 514.7,393.75 516,393.6C517.3,393.45 518.62,394.1 519.9,394.3C521.18,394.5 522.42,394.65 523.7,394.8C524.98,394.95 526.4,394.88 527.6,395.2C528.8,395.52 529.95,396.05 530.9,396.7C531.85,397.35 532.57,398.13 533.3,399.1C534.03,400.07 534.57,401.53 535.3,402.5C536.03,403.47 536.82,404.1 537.7,404.9C538.58,405.7 539.63,406.42 540.6,407.3C541.57,408.18 542.37,409.47 543.5,410.2C544.63,410.93 546.1,411.2 547.4,411.7C548.7,412.2 550.17,413.12 551.3,413.2C552.43,413.28 553.23,412.77 554.2,412.2C555.17,411.63 556.13,410.7 557.1,409.8C558.07,408.9 559.02,407.93 560,406.8C560.98,405.67 562.02,404.05 563,403C563.98,401.95 564.93,401 565.9,400.5C566.87,400 567.83,400.23 568.8,400C569.77,399.77 570.73,399.37 571.7,399.1C572.67,398.83 573.57,398.32 574.6,398.4C575.63,398.48 576.95,398.92 577.9,399.6C578.85,400.28 579.48,401.45 580.3,402.5C581.12,403.55 582.07,404.62 582.8,405.9C583.53,407.18 583.98,408.75 584.7,410.2C585.42,411.65 586.28,413.13 587.1,414.6C587.92,416.07 588.7,417.47 589.6,419C590.5,420.53 591.53,422.18 592.5,423.8C593.47,425.42 594.45,427.13 595.4,428.7C596.35,430.27 597.2,431.92 598.2,433.2C599.2,434.48 600.33,435.52 601.4,436.4C602.47,437.28 603.62,437.62 604.6,438.5C605.58,439.38 606.5,440.45 607.3,441.7C608.1,442.95 608.78,444.4 609.4,446C610.02,447.6 610.47,448.98 611,451.3C611.53,453.62 612.1,456.87 612.6,459.9C613.1,462.93 613.55,466 614,469.5C614.45,473 615.08,479 615.3,480.9" fill="none" stroke="#262626" stroke-width="1.15" stroke-linejoin="round" stroke-linecap="round"/>
<path d="M440.5,480.9C440.67,474.08 441.2,451.48 441.5,440C441.8,428.52 441.92,420.95 442.3,412C442.68,403.05 443.32,392.85 443.8,386.3C444.28,379.75 444.72,375.53 445.2,372.7C445.68,369.87 446.22,369.92 446.7,369.3C447.18,368.68 447.62,368.83 448.1,369C448.58,369.17 449.03,369.52 449.6,370.3C450.17,371.08 450.7,372.65 451.5,373.7C452.3,374.75 453.42,375.63 454.4,376.6C455.38,377.57 456.42,378.7 457.4,379.5C458.38,380.3 459.17,380.83 460.3,381.4C461.43,381.97 462.92,382.57 464.2,382.9C465.48,383.23 466.72,383.08 468,383.4C469.28,383.72 470.6,384.17 471.9,384.8C473.2,385.43 474.67,386.38 475.8,387.2C476.93,388.02 477.73,388.97 478.7,389.7C479.67,390.43 480.8,391.02 481.6,391.6C482.4,392.18 482.78,392.52 483.5,393.2C484.22,393.88 485.02,394.38 485.9,395.7C486.78,397.02 487.83,399.23 488.8,401.1C489.77,402.97 490.73,405.13 491.7,406.9C492.67,408.67 493.63,410.57 494.6,411.7C495.57,412.83 496.37,413.05 497.5,413.7C498.63,414.35 499.93,415.03 501.4,415.6C502.87,416.17 504.83,417.25 506.3,417.1C507.77,416.95 508.92,416.08 510.2,414.7C511.48,413.32 512.72,411.07 514,408.8C515.28,406.53 516.77,402.87 517.9,401.1C519.03,399.33 519.83,398.77 520.8,398.2C521.77,397.63 522.57,397.55 523.7,397.7C524.83,397.85 526.4,398.38 527.6,399.1C528.8,399.82 529.87,401.12 530.9,402C531.93,402.88 532.83,403.27 533.8,404.4C534.77,405.53 535.8,407.18 536.7,408.8C537.6,410.42 538.38,412.08 539.2,414.1C540.02,416.12 540.88,418.63 541.6,420.9C542.32,423.17 542.75,424.48 543.5,427.7C544.25,430.92 545.38,435.6 546.1,440.2C546.82,444.8 547.32,450.45 547.8,455.3C548.28,460.15 548.7,465.03 549,469.3C549.3,473.57 549.5,478.97 549.6,480.9L669.7,480.9" fill="none" stroke="#63435f" stroke-width="1.15" stroke-linejoin="round" stroke-linecap="round"/>
<g font-family='"Liberation Sans", sans-serif' fill="#000">
<text x="59.6" y="127.7" text-anchor="end" font-size="11.2">0</text>
<text x="59.6" y="92.17" text-anchor="end" font-size="11.2">5</text>
<text x="46.3" y="56.63" font-size="11" textLength="13.6" lengthAdjust="spacingAndGlyphs">10</text>
<text x="46.3" y="21.1" font-size="11" textLength="13.6" lengthAdjust="spacingAndGlyphs">15</text>
<text x="73.4" y="137.3" text-anchor="middle" font-size="11.2">0</text>
<text x="102.92" y="141.9" font-size="11.1" textLength="30.6" lengthAdjust="spacingAndGlyphs">1×10</text>
<text x="131.62" y="132.8" font-size="5.4">5</text>
<text x="148.74" y="141.9" font-size="11.1" textLength="30.6" lengthAdjust="spacingAndGlyphs">2×10</text>
<text x="177.44" y="132.8" font-size="5.4">5</text>
<text x="194.56" y="141.9" font-size="11.1" textLength="30.6" lengthAdjust="spacingAndGlyphs">3×10</text>
<text x="223.26" y="132.8" font-size="5.4">5</text>
<text x="240.38" y="141.9" font-size="11.1" textLength="30.6" lengthAdjust="spacingAndGlyphs">4×10</text>
<text x="269.08" y="132.8" font-size="5.4">5</text>
<text x="286.2" y="141.9" font-size="11.1" textLength="30.6" lengthAdjust="spacingAndGlyphs">5×10</text>
<text x="314.9" y="132.8" font-size="5.4">5</text>
<text transform="translate(37,126.6) rotate(-90)" x="0" y="0" font-size="13.5" textLength="126.3" lengthAdjust="spacingAndGlyphs">Ice volume (m sle)</text>
<text x="59.6" y="306.5" text-anchor="end" font-size="11.2">0</text>
<text x="59.6" y="270.97" text-anchor="end" font-size="11.2">5</text>
<text x="46.3" y="235.43" font-size="11" textLength="13.6" lengthAdjust="spacingAndGlyphs">10</text>
<text x="46.3" y="199.9" font-size="11" textLength="13.6" lengthAdjust="spacingAndGlyphs">15</text>
<text x="73.4" y="316.1" text-anchor="middle" font-size="11.2">0</text>
<text x="102.92" y="320.7" font-size="11.1" textLength="30.6" lengthAdjust="spacingAndGlyphs">1×10</text>
<text x="131.62" y="311.6" font-size="5.4">5</text>
<text x="148.74" y="320.7" font-size="11.1" textLength="30.6" lengthAdjust="spacingAndGlyphs">2×10</text>
<text x="177.44" y="311.6" font-size="5.4">5</text>
<text x="194.56" y="320.7" font-size="11.1" textLength="30.6" lengthAdjust="spacingAndGlyphs">3×10</text>
<text x="223.26" y="311.6" font-size="5.4">5</text>
<text x="240.38" y="320.7" font-size="11.1" textLength="30.6" lengthAdjust="spacingAndGlyphs">4×10</text>
<text x="269.08" y="311.6" font-size="5.4">5</text>
<text x="286.2" y="320.7" font-size="11.1" textLength="30.6" lengthAdjust="spacingAndGlyphs">5×10</text>
<text x="314.9" y="311.6" font-size="5.4">5</text>
<text transform="translate(37,305.4) rotate(-90)" x="0" y="0" font-size="13.5" textLength="126.3" lengthAdjust="spacingAndGlyphs">Ice volume (m sle)</text>
<text x="59.6" y="485.2" text-anchor="end" font-size="11.2">0</text>
<text x="59.6" y="449.67" text-anchor="end" font-size="11.2">5</text>
<text x="46.3" y="414.13" font-size="11" textLength="13.6" lengthAdjust="spacingAndGlyphs">10</text>
<text x="46.3" y="378.6" font-size="11" textLength="13.6" lengthAdjust="spacingAndGlyphs">15</text>
<text x="73.4" y="494.8" text-anchor="middle" font-size="11.2">0</text>
<text x="102.92" y="499.4" font-size="11.1" textLength="30.6" lengthAdjust="spacingAndGlyphs">1×10</text>
<text x="131.62" y="490.3" font-size="5.4">5</text>
<text x="148.74" y="499.4" font-size="11.1" textLength="30.6" lengthAdjust="spacingAndGlyphs">2×10</text>
<text x="177.44" y="490.3" font-size="5.4">5</text>
<text x="194.56" y="499.4" font-size="11.1" textLength="30.6" lengthAdjust="spacingAndGlyphs">3×10</text>
<text x="223.26" y="490.3" font-size="5.4">5</text>
<text x="240.38" y="499.4" font-size="11.1" textLength="30.6" lengthAdjust="spacingAndGlyphs">4×10</text>
<text x="269.08" y="490.3" font-size="5.4">5</text>
<text x="286.2" y="499.4" font-size="11.1" textLength="30.6" lengthAdjust="spacingAndGlyphs">5×10</text>
<text x="314.9" y="490.3" font-size="5.4">5</text>
<text transform="translate(37,484.1) rotate(-90)" x="0" y="0" font-size="13.5" textLength="126.3" lengthAdjust="spacingAndGlyphs">Ice volume (m sle)</text>
<text x="426.7" y="127.7" text-anchor="end" font-size="11.2">0</text>
<text x="426.7" y="92.17" text-anchor="end" font-size="11.2">5</text>
<text x="413.4" y="56.63" font-size="11" textLength="13.6" lengthAdjust="spacingAndGlyphs">10</text>
<text x="413.4" y="21.1" font-size="11" textLength="13.6" lengthAdjust="spacingAndGlyphs">15</text>
<text x="440.5" y="137.3" text-anchor="middle" font-size="11.2">0</text>
<text x="470.02" y="141.9" font-size="11.1" textLength="30.6" lengthAdjust="spacingAndGlyphs">1×10</text>
<text x="498.72" y="132.8" font-size="5.4">5</text>
<text x="515.84" y="141.9" font-size="11.1" textLength="30.6" lengthAdjust="spacingAndGlyphs">2×10</text>
<text x="544.54" y="132.8" font-size="5.4">5</text>
<text x="561.66" y="141.9" font-size="11.1" textLength="30.6" lengthAdjust="spacingAndGlyphs">3×10</text>
<text x="590.36" y="132.8" font-size="5.4">5</text>
<text x="607.48" y="141.9" font-size="11.1" textLength="30.6" lengthAdjust="spacingAndGlyphs">4×10</text>
<text x="636.18" y="132.8" font-size="5.4">5</text>
<text x="653.3" y="141.9" font-size="11.1" textLength="30.6" lengthAdjust="spacingAndGlyphs">5×10</text>
<text x="682" y="132.8" font-size="5.4">5</text>
<text transform="translate(404.1,126.6) rotate(-90)" x="0" y="0" font-size="13.5" textLength="126.3" lengthAdjust="spacingAndGlyphs">Ice volume (m sle)</text>
<text x="426.7" y="306.5" text-anchor="end" font-size="11.2">0</text>
<text x="426.7" y="270.97" text-anchor="end" font-size="11.2">5</text>
<text x="413.4" y="235.43" font-size="11" textLength="13.6" lengthAdjust="spacingAndGlyphs">10</text>
<text x="413.4" y="199.9" font-size="11" textLength="13.6" lengthAdjust="spacingAndGlyphs">15</text>
<text x="440.5" y="316.1" text-anchor="middle" font-size="11.2">0</text>
<text x="470.02" y="320.7" font-size="11.1" textLength="30.6" lengthAdjust="spacingAndGlyphs">1×10</text>
<text x="498.72" y="311.6" font-size="5.4">5</text>
<text x="515.84" y="320.7" font-size="11.1" textLength="30.6" lengthAdjust="spacingAndGlyphs">2×10</text>
<text x="544.54" y="311.6" font-size="5.4">5</text>
<text x="561.66" y="320.7" font-size="11.1" textLength="30.6" lengthAdjust="spacingAndGlyphs">3×10</text>
<text x="590.36" y="311.6" font-size="5.4">5</text>
<text x="607.48" y="320.7" font-size="11.1" textLength="30.6" lengthAdjust="spacingAndGlyphs">4×10</text>
<text x="636.18" y="311.6" font-size="5.4">5</text>
<text x="653.3" y="320.7" font-size="11.1" textLength="30.6" lengthAdjust="spacingAndGlyphs">5×10</text>
<text x="682" y="311.6" font-size="5.4">5</text>
<text transform="translate(404.1,305.4) rotate(-90)" x="0" y="0" font-size="13.5" textLength="126.3" lengthAdjust="spacingAndGlyphs">Ice volume (m sle)</text>
<text x="426.7" y="485.2" text-anchor="end" font-size="11.2">0</text>
<text x="426.7" y="449.67" text-anchor="end" font-size="11.2">5</text>
<text x="413.4" y="414.13" font-size="11" textLength="13.6" lengthAdjust="spacingAndGlyphs">10</text>
<text x="413.4" y="378.6" font-size="11" textLength="13.6" lengthAdjust="spacingAndGlyphs">15</text>
<text x="440.5" y="494.8" text-anchor="middle" font-size="11.2">0</text>
<text x="470.02" y="499.4" font-size="11.1" textLength="30.6" lengthAdjust="spacingAndGlyphs">1×10</text>
<text x="498.72" y="490.3" font-size="5.4">5</text>
<text x="515.84" y="499.4" font-size="11.1" textLength="30.6" lengthAdjust="spacingAndGlyphs">2×10</text>
<text x="544.54" y="490.3" font-size="5.4">5</text>
<text x="561.66" y="499.4" font-size="11.1" textLength="30.6" lengthAdjust="spacingAndGlyphs">3×10</text>
<text x="590.36" y="490.3" font-size="5.4">5</text>
<text x="607.48" y="499.4" font-size="11.1" textLength="30.6" lengthAdjust="spacingAndGlyphs">4×10</text>
<text x="636.18" y="490.3" font-size="5.4">5</text>
<text x="653.3" y="499.4" font-size="11.1" textLength="30.6" lengthAdjust="spacingAndGlyphs">5×10</text>
<text x="682" y="490.3" font-size="5.4">5</text>
<text transform="translate(404.1,484.1) rotate(-90)" x="0" y="0" font-size="13.5" textLength="126.3" lengthAdjust="spacingAndGlyphs">Ice volume (m sle)</text>
<text x="-0.8" y="24" font-size="20.6">a</text>
<text x="-0.8" y="202.8" font-size="20.6">b</text>
<text x="-0.8" y="381.6" font-size="20.6">c</text>
<text x="366.3" y="24" font-size="20.6">d</text>
<text x="366.3" y="202.8" font-size="20.6">e</text>
<text x="366.3" y="381.6" font-size="20.6">f</text>
<line x1="240.3" y1="4.1" x2="256.9" y2="4.1" stroke="#262626" stroke-width="1.25"/>
<text x="258.4" y="8.6" font-size="11.1" textLength="38.3" lengthAdjust="spacingAndGlyphs">5.0e20</text>
<line x1="240.3" y1="17.9" x2="256.9" y2="17.9" stroke="#6e4a6a" stroke-width="1.3"/>
<text x="258.4" y="22.4" font-size="11.1" textLength="38.3" lengthAdjust="spacingAndGlyphs">1.0e20</text>
<line x1="240.3" y1="31.8" x2="256.9" y2="31.8" stroke="#a9739f" stroke-width="1.4"/>
<text x="258.4" y="36.3" font-size="11.1" textLength="38.3" lengthAdjust="spacingAndGlyphs">5.0e19</text>
<line x1="240.3" y1="45.6" x2="256.9" y2="45.6" stroke="#cf98c5" stroke-width="1.4"/>
<text x="258.4" y="50.1" font-size="11.1" textLength="38.3" lengthAdjust="spacingAndGlyphs">1.0e19</text>
<line x1="607.3" y1="63.3" x2="623.9" y2="63.3" stroke="#262626" stroke-width="1.25"/>
<text x="625.4" y="67.8" font-size="11.1" textLength="38.3" lengthAdjust="spacingAndGlyphs">5.0e20</text>
<line x1="607.3" y1="77.3" x2="623.9" y2="77.3" stroke="#6e4a6a" stroke-width="1.3"/>
<text x="625.4" y="81.8" font-size="11.1" textLength="38.3" lengthAdjust="spacingAndGlyphs">1.0e20</text>
<line x1="607.3" y1="91.1" x2="623.9" y2="91.1" stroke="#a9739f" stroke-width="1.4"/>
<text x="625.4" y="95.6" font-size="11.1" textLength="38.3" lengthAdjust="spacingAndGlyphs">5.0e19</text>
<line x1="607.3" y1="104.8" x2="623.9" y2="104.8" stroke="#cf98c5" stroke-width="1.4"/>
<text x="625.4" y="109.3" font-size="11.1" textLength="38.3" lengthAdjust="spacingAndGlyphs">1.0e19</text>
<line x1="240.3" y1="182.6" x2="256.9" y2="182.6" stroke="#262626" stroke-width="1.15"/>
<text x="258.4" y="187.1" font-size="11.1" textLength="38.3" lengthAdjust="spacingAndGlyphs">1.0e22</text>
<line x1="240.3" y1="196.6" x2="256.9" y2="196.6" stroke="#5c385c" stroke-width="1.15"/>
<text x="258.4" y="201.1" font-size="11.1" textLength="38.3" lengthAdjust="spacingAndGlyphs">5.0e21</text>
<line x1="240.3" y1="210.5" x2="256.9" y2="210.5" stroke="#8b558a" stroke-width="1.15"/>
<text x="258.4" y="215" font-size="11.1" textLength="38.3" lengthAdjust="spacingAndGlyphs">1.0e21</text>
<line x1="607.3" y1="167.5" x2="623.9" y2="167.5" stroke="#262626" stroke-width="1.15"/>
<text x="625.4" y="172" font-size="11.1" textLength="38.3" lengthAdjust="spacingAndGlyphs">1.0e22</text>
<line x1="607.3" y1="181.4" x2="623.9" y2="181.4" stroke="#5c385c" stroke-width="1.15"/>
<text x="625.4" y="185.9" font-size="11.1" textLength="38.3" lengthAdjust="spacingAndGlyphs">5.0e21</text>
<line x1="607.3" y1="195.6" x2="623.9" y2="195.6" stroke="#8b558a" stroke-width="1.15"/>
<text x="625.4" y="200.1" font-size="11.1" textLength="38.3" lengthAdjust="spacingAndGlyphs">1.0e21</text>
<line x1="240.3" y1="377.9" x2="256.9" y2="377.9" stroke="#555" stroke-width="1.3"/>
<text x="258.4" y="382.4" font-size="11.1" textLength="38.3" lengthAdjust="spacingAndGlyphs">1.0e23</text>
<line x1="240.3" y1="391.5" x2="256.9" y2="391.5" stroke="#6a536a" stroke-width="1.3"/>
<text x="258.4" y="396" font-size="11.1" textLength="38.3" lengthAdjust="spacingAndGlyphs">5.0e22</text>
<line x1="607.3" y1="377.9" x2="623.9" y2="377.9" stroke="#555" stroke-width="1.3"/>
<text x="625.4" y="382.4" font-size="11.1" textLength="38.3" lengthAdjust="spacingAndGlyphs">1.0e23</text>
<line x1="607.3" y1="391.5" x2="623.9" y2="391.5" stroke="#6a536a" stroke-width="1.3"/>
<text x="625.4" y="396" font-size="11.1" textLength="38.3" lengthAdjust="spacingAndGlyphs">5.0e22</text>
<text x="124" y="511.3" font-size="13.1" textLength="128.2" lengthAdjust="spacingAndGlyphs">Model time (years)</text>
<text x="491.1" y="511.3" font-size="13.1" textLength="128.2" lengthAdjust="spacingAndGlyphs">Model time (years)</text>
</g>
</svg>
</body></html>
